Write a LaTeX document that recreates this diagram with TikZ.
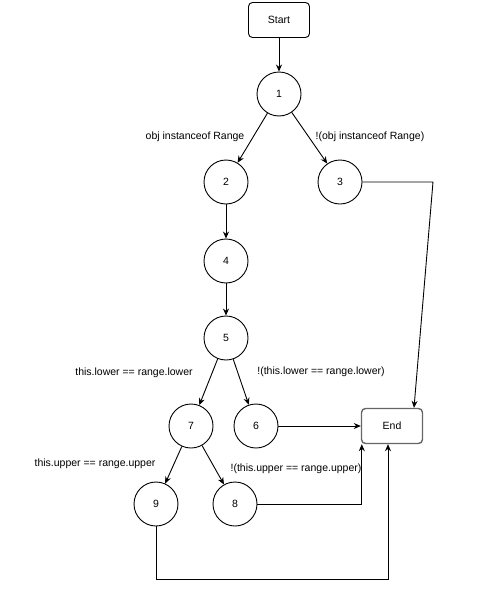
\documentclass[tikz,border=0pt]{standalone}
\usepackage{fontspec}
\setmainfont{Liberation Sans}
\usetikzlibrary{arrows.meta}

\tikzset{
  state/.style={draw,circle,minimum size=44pt,inner sep=0pt,font=\fontsize{10.5}{12}\selectfont},
  term/.style={draw,rounded corners=4pt,minimum width=61pt,minimum height=35pt,font=\fontsize{10.5}{12}\selectfont},
  cond/.style={inner sep=0pt,font=\fontsize{10.5}{12}\selectfont},
  arr/.style={-{Stealth[length=7pt,width=6pt]}}
}

\begin{document}
\begin{tikzpicture}[x=1pt,y=-1pt,line width=0.9pt]
      \useasboundingbox (0,0) rectangle (487,608);

      \node[term] (start) at (279,20) {Start};
      \node[state] (n1) at (279,94) {1};
      \node[state] (n2) at (226,182) {2};
      \node[state] (n3) at (340,182) {3};
      \node[state] (n4) at (226,261) {4};
      \node[state] (n5) at (226,338) {5};
      \node[state] (n7) at (191,426) {7};
      \node[state] (n6) at (256,426) {6};
      \node[term,draw=black!60,line width=1.4pt] (end) at (392,426) {End};
      \node[state] (n9) at (156,504) {9};
      \node[state] (n8) at (235,504) {8};

      % branch conditions
      \node[cond] (l12) at (195,137) {obj instanceof Range};
      \node[cond] (l13) at (370,137) {!(obj instanceof Range)};
      \node[cond] (l57) at (134,373) {this.lower == range.lower};
      \node[cond] (l56) at (321,372) {!(this.lower == range.lower)};
      \node[cond] (l79) at (95,464) {this.upper == range.upper};
      \node[cond] (l78) at (296,469) {!(this.upper == range.upper)};

      \coordinate (c3) at (433,182);
      \coordinate (c9) at (156,579);

      \draw[arr] (start) -- (n1);
      \draw[arr] (n1) -- (n2);
      \draw[arr] (n1) -- (n3);
      \draw[arr] (n2) -- (n4);
      \draw[arr] (n4) -- (n5);
      \draw[arr] (n5) -- (n7);
      \draw[arr] (n5) -- (n6);
      \draw[arr] (n7) -- (n9);
      \draw[arr] (n7) -- (n8);
      \draw[arr] (n3.east) -- (c3) -- ([xshift=22pt]end.north);
      \draw[arr] (n6) -- (end);
      \draw[arr] (n8.east) -| ([xshift=1pt]end.south west);
      \draw[arr] (n9.south) -- (c9) -| ([xshift=-4pt]end.south);
    \end{tikzpicture}
\end{document}
